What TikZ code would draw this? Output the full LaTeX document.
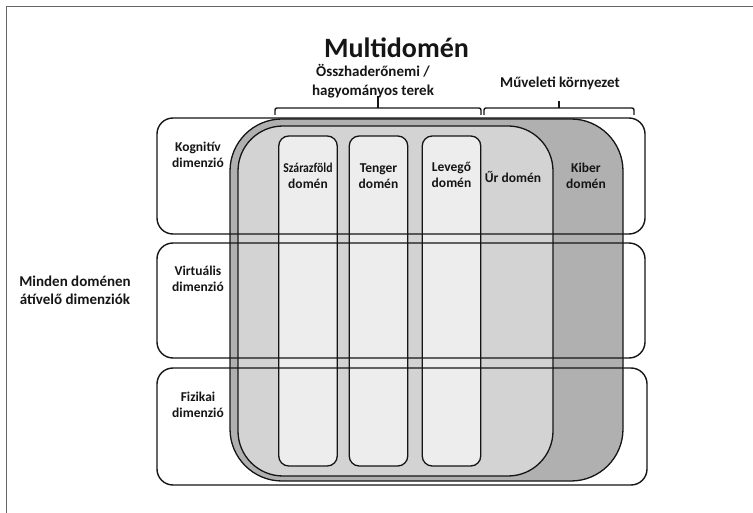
\documentclass[tikz,border=0pt]{standalone}
\usepackage{fontspec}
\setmainfont{Carlito}
\usepackage{graphicx}
\definecolor{kibfill}{HTML}{B0B0B0}
\definecolor{urfill}{HTML}{D3D3D3}
\definecolor{colfill}{HTML}{EDEDED}
\definecolor{framegray}{HTML}{666666}
\definecolor{ink}{HTML}{151515}
\begin{document}
\begin{tikzpicture}[x=1pt,y=-1pt,
  lbl/.style={font=\bfseries\fontsize{13.5}{16.5}\selectfont, align=center, inner sep=0pt, text=ink},
  biglbl/.style={font=\bfseries\fontsize{15}{18.5}\selectfont, align=center, inner sep=0pt, text=ink},
  rowbox/.style={fill=white, rounded corners=16pt, minimum width=488pt, inner sep=0pt, outer sep=0pt},
  rowline/.style={draw=ink, line width=1.4pt, rounded corners=16pt},
  layer/.style={draw=ink, line width=1.3pt, inner sep=0pt, outer sep=0pt},
  colbox/.style={layer, fill=colfill, rounded corners=10pt, minimum width=58.5pt, minimum height=330pt},
  bracket/.style={draw=ink, line width=1.4pt, rounded corners=2pt}
]
\useasboundingbox (0,0) rectangle (753,513);
% frame (top and left edges)
\coordinate (fbl) at (6.5,513);
\coordinate (ftl) at (6.5,6.5);
\coordinate (ftr) at (753,6.5);
\draw[framegray, line width=1.5pt] (fbl) -- (ftl) -- (ftr);

% dimension rows (white fill)
\node[rowbox, minimum height=116pt] (r1) at (401,176) {};
\node[rowbox, minimum height=115pt] (r2) at (401,300.5) {};
\node[rowbox, minimum width=490pt, minimum height=117pt] (r3) at (402,426.5) {};

% domain layers
\node[layer, fill=kibfill, rounded corners=52pt, minimum width=393pt, minimum height=362pt] (kiber) at (426.5,300) {};
\node[layer, fill=urfill, rounded corners=45pt, minimum width=315pt, minimum height=350pt] (ur) at (395.5,301) {};
\node[colbox] (szf) at (308,301) {};
\node[colbox] (ten) at (378.5,301) {};
\node[colbox] (lev) at (451.5,301) {};

% row outlines on top
\draw[rowline] (r1.north west) rectangle (r1.south east);
\draw[rowline] (r2.north west) rectangle (r2.south east);
\draw[rowline] (r3.north west) rectangle (r3.south east);

% labels
\node[font=\bfseries\fontsize{28}{30}\selectfont, anchor=base, inner sep=0pt, text=ink] (title) at (396.5,58) {Multidomén};
\node[biglbl] (ossz) at (373,81) {Összhaderőnemi /\\hagyományos terek};
\node[biglbl] (muv) at (560,83) {Műveleti környezet};
\node[biglbl] (minden) at (75,290.5) {Minden doménen\\átívelő dimenziók};

\node[lbl] (kog) at (198,155) {Kognitív\\dimenzió};
\node[lbl] (vir) at (198,279) {Virtuális\\dimenzió};
\node[lbl] (fiz) at (198,405) {Fizikai\\dimenzió};

\node[lbl] (szfl) at (308,176) {\scalebox{0.87}[1]{Szárazföld}\\domén};
\node[lbl] (tenl) at (378.5,176) {Tenger\\domén};
\node[lbl] (levl) at (451.5,175) {Levegő\\domén};
\node[lbl] (url) at (513,177) {Űr domén};
\node[lbl] (kibl) at (586,176) {Kiber\\domén};

% brackets
\coordinate (a1) at (275,115);
\coordinate (a2) at (275,108);
\coordinate (a3) at (481,108);
\coordinate (a4) at (481,115);
\coordinate (am) at (378,108);
\coordinate (at) at (378,96);
\draw[bracket] (a1) -- (a2) -- (a3) -- (a4);
\draw[bracket] (am) -- (at);
\coordinate (c1) at (484,115);
\coordinate (c2) at (484,108);
\coordinate (c3) at (634,108);
\coordinate (c4) at (634,115);
\coordinate (cm) at (559,108);
\coordinate (ct) at (559,101);
\draw[bracket] (c1) -- (c2) -- (c3) -- (c4);
\draw[bracket] (cm) -- (ct);
\end{tikzpicture}
\end{document}
